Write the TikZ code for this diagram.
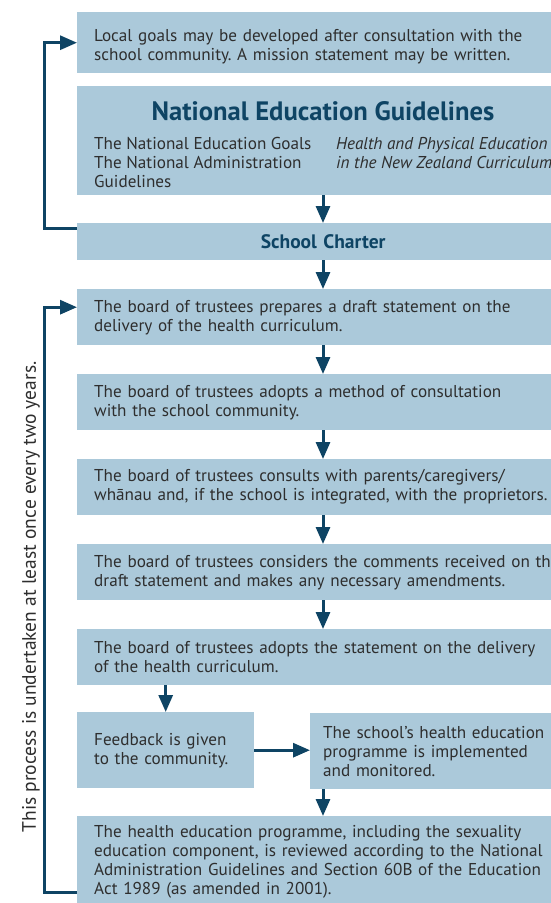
\documentclass[tikz,border=0pt]{standalone}
\usepackage{fontspec}
\setmainfont{PT Sans}
\usetikzlibrary{arrows.meta}
\definecolor{boxblue}{HTML}{ABC9DA}
\definecolor{navy}{HTML}{0E4464}
\definecolor{ink}{HTML}{2E2E2E}
\frenchspacing
\begin{document}
\begin{tikzpicture}[x=1pt,y=-1pt,
  bodytext/.style={font={\fontsize{17.15pt}{19pt}\selectfont}, text=ink},
  box/.style={bodytext, fill=boxblue, draw=none, anchor=north west,
    text width=470pt, inner xsep=17pt, inner ysep=0pt, align=left},
  smallbox/.style={box},
  flow/.style={draw=navy, line width=3pt, line join=miter,
    -{Triangle[length=17pt,width=14pt]}},
  loopline/.style={flow}]
\useasboundingbox (0,0) rectangle (551,903);
\clip (0,0) rectangle (551,903);
\coordinate (colx) at (323,0);
\coordinate (lx) at (44,0);

% top part: goals, national guidelines, charter
\node[box, minimum height=61pt] (goals) at (77,12)
  {\rule{0pt}{20.5pt}Local goals may be developed after consultation with the\\
   school community. A mission statement may be written.};
\node[box, minimum height=109pt] (neg) at (77,86) {};
\node[font={\fontsize{26.6pt}{30pt}\selectfont\bfseries}, text=navy,
  anchor=base, inner sep=0pt] (negtitle) at (323,120) {National Education Guidelines};
\node[bodytext, anchor=base west, align=left, inner sep=0pt] (negleft) at (94,187)
  {The National Education Goals\\The National Administration\\Guidelines};
\node[bodytext, anchor=base west, align=left, inner sep=0pt,
  font={\fontsize{17.15pt}{19pt}\selectfont\itshape}] (negright) at (336,168)
  {Health and Physical Education\\in the New Zealand Curriculum};
\node[box, minimum height=37pt, text width=458pt, align=center, text=navy,
  font={\fontsize{19.5pt}{21pt}\selectfont\bfseries}] (charter) at (77,223)
  {School Charter};

% consultation cycle
\node[box, minimum height=56pt] (s1) at (77,289)
  {The board of trustees prepares a draft statement on the\\
   delivery of the health curriculum.};
\node[box, minimum height=56pt] (s2) at (77,374)
  {The board of trustees adopts a method of consultation\\
   with the school community.};
\node[box, minimum height=56pt] (s3) at (77,459)
  {The board of trustees consults with parents/caregivers/\\
   whānau and, if the school is integrated, with the proprietors.};
\node[box, minimum height=56pt] (s4) at (77,544)
  {The board of trustees considers the comments received on the\\
   draft statement and makes any necessary amendments.};
\node[box, minimum height=56pt] (s5) at (77,629)
  {The board of trustees adopts the statement on the delivery\\
   of the health curriculum.};
\node[smallbox, minimum height=76pt, text width=143pt]
  (fb) at (77,712) {Feedback is given\\to the community.};
\node[smallbox, minimum height=76pt, text width=233pt,
  inner xsep=13pt] (impl) at (310,713)
  {The school’s health education\\programme is implemented\\and monitored.};
\node[box, minimum height=91pt] (review) at (77,816)
  {The health education programme, including the sexuality\\
   education component, is reviewed according to the National\\
   Administration Guidelines and Section 60B of the Education\\
   Act 1989 (as amended in 2001).};

\node[bodytext, rotate=90, font={\fontsize{19.5pt}{21pt}\selectfont}] (cycle)
  at (31,597) {This process is undertaken at least once every two years.};

% connectors
\draw[flow] (neg.south -| colx) -- (charter.north -| colx);
\draw[flow] (charter.south -| colx) -- (s1.north -| colx);
\draw[flow] (s1.south -| colx) -- (s2.north -| colx);
\draw[flow] (s2.south -| colx) -- (s3.north -| colx);
\draw[flow] (s3.south -| colx) -- (s4.north -| colx);
\draw[flow] (s4.south -| colx) -- (s5.north -| colx);
\draw[flow] (s5.south -| fb.north) -- (fb.north);
\draw[flow] (fb.east) -- (impl.west |- fb.east);
\draw[flow] (impl.south -| colx) -- (review.north -| colx);
\draw[loopline] ([yshift=-5pt]charter.north west) -| (goals.west -| lx) -- (goals.west);
\draw[loopline] ([yshift=-76pt]review.north west) -| ([yshift=10pt]s1.west -| lx)
  -- ([yshift=10pt]s1.west);
\end{tikzpicture}
\end{document}
